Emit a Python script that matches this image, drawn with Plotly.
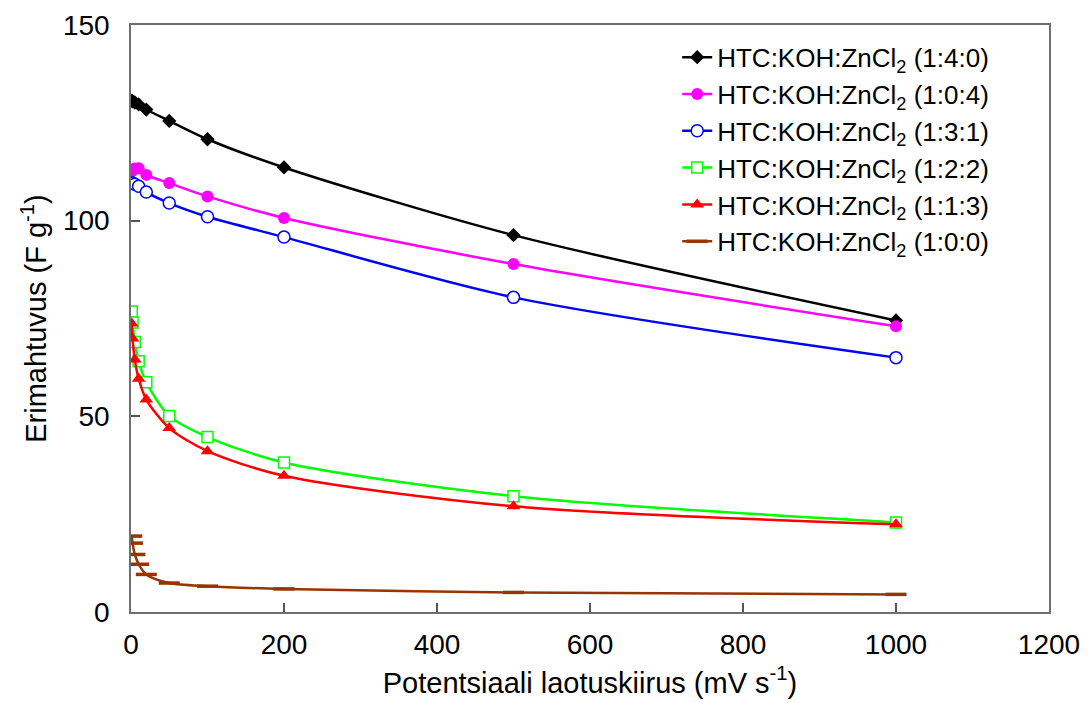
import plotly.graph_objects as go

# Scan rates (mV/s)
scan_rate = [1, 2, 5, 10, 20, 50, 100, 200, 500, 1000]

# Specific capacitance (F/g) for each HTC:KOH:ZnCl2 ratio
cap_140 = [130.7, 130.5, 130.2, 129.7, 128.4, 125.5, 120.8, 113.6, 96.3, 74.5]
cap_104 = [112.6, 112.9, 113.3, 113.4, 111.7, 109.6, 106.2, 100.7, 88.9, 73.0]
cap_131 = [109.6, 109.6, 109.3, 108.8, 107.3, 104.5, 101.0, 95.8, 80.4, 65.0]
cap_122 = [76.8, 74.0, 69.0, 64.1, 58.7, 50.1, 44.7, 38.2, 29.6, 22.9]
cap_113 = [73.7, 69.9, 64.5, 59.6, 54.3, 47.0, 41.1, 34.8, 27.0, 22.4]
cap_100 = [19.4, 17.6, 14.7, 12.2, 9.6, 7.4, 6.6, 5.9, 5.0, 4.5]

labels = [
    "HTC:KOH:ZnCl<sub>2</sub> (1:4:0)",
    "HTC:KOH:ZnCl<sub>2</sub> (1:0:4)",
    "HTC:KOH:ZnCl<sub>2</sub> (1:3:1)",
    "HTC:KOH:ZnCl<sub>2</sub> (1:2:2)",
    "HTC:KOH:ZnCl<sub>2</sub> (1:1:3)",
    "HTC:KOH:ZnCl<sub>2</sub> (1:0:0)",
]

x_ticks = [0, 200, 400, 600, 800, 1000, 1200]
y_ticks = [0, 50, 100, 150]

FONT = "Liberation Sans, Arial, sans-serif"

series = [
    (cap_140, labels[0], "#000000", dict(symbol="diamond", size=11, color="#000000")),
    (cap_104, labels[1], "#FF00FF", dict(symbol="circle", size=12, color="#FF00FF")),
    (cap_131, labels[2], "#0000FF", dict(symbol="circle", size=12, color="white",
                                          line=dict(color="#0000FF", width=1.5))),
    (cap_122, labels[3], "#00FF00", dict(symbol="square", size=11, color="white",
                                          line=dict(color="#00FF00", width=1.5))),
    (cap_113, labels[4], "#FF0000", dict(symbol="triangle-up", size=12, color="#FF0000")),
    (cap_100, labels[5], "#993300", dict(symbol="line-ew", size=15, color="#993300",
                                          line=dict(color="#993300", width=3.5))),
]

fig = go.Figure()
for ys, name, color, marker in series:
    fig.add_trace(go.Scatter(
        x=scan_rate, y=ys, name=name, mode="lines+markers",
        line=dict(color=color, width=2.5, shape="spline", smoothing=0.8),
        marker=marker,
    ))

axis_common = dict(
    showline=True, linecolor="#6f6f6f", linewidth=1.5, mirror=True,
    ticks="inside", ticklen=9, tickwidth=1.5, tickcolor="#555555",
    showgrid=False, zeroline=False, automargin=False,
    tickfont=dict(family=FONT, size=28, color="#000000"),
)

fig.update_xaxes(
    range=[0, 1200], tickvals=x_ticks, ticklabelstandoff=7,
    title=dict(text="Potentsiaali laotuskiirus (mV s<sup>-1</sup>)",
               font=dict(family=FONT, size=29, color="#000000"), standoff=13),
    **axis_common,
)
fig.update_yaxes(
    range=[0, 150], tickvals=y_ticks, ticklabelstandoff=14,
    title=dict(text="Erimahtuvus (F g<sup>-1</sup>)",
               font=dict(family=FONT, size=29, color="#000000"), standoff=8),
    **axis_common,
)

fig.update_layout(
    width=1089, height=703,
    margin=dict(l=131, r=40, t=25, b=91),
    plot_bgcolor="white", paper_bgcolor="white",
    showlegend=True,
    legend=dict(
        x=0.595, y=0.985, xanchor="left", yanchor="top",
        font=dict(family=FONT, size=26, color="#000000"),
        bgcolor="rgba(0,0,0,0)", borderwidth=0,
        tracegroupgap=0, itemwidth=30,
    ),
)

fig.write_html("out.html")
